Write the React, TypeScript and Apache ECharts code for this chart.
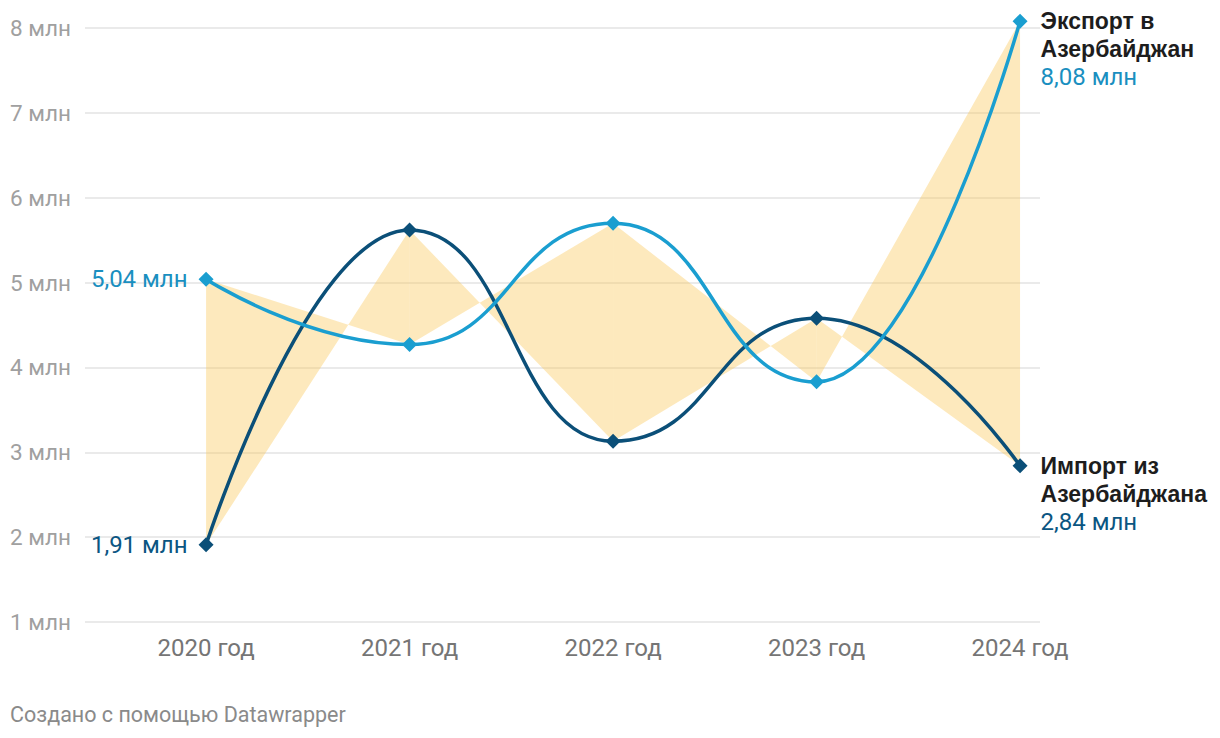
import React, { useEffect, useRef } from "react";
import * as echarts from "echarts";

const years = [2020, 2021, 2022, 2023, 2024];
const exportValues = [5.04, 4.27, 5.7, 3.83, 8.08];
const importValues = [1.91, 5.62, 3.13, 4.58, 2.84];
const yTicks = [1, 2, 3, 4, 5, 6, 7, 8];
const exportName = "Экспорт в\nАзербайджан";
const importName = "Импорт из\nАзербайджана";
const footer = "Создано с помощью Datawrapper";

const EXP = "#1a9ed0";
const EXP_TXT = "#1a8fc0";
const IMP = "#0b4f78";
const IMP_TXT = "#0b5682";

const fmt = (v: number) => v.toFixed(2).replace(".", ",") + " млн";

export default function App() {
  const ref = useRef<HTMLDivElement>(null);
  useEffect(() => {
    document.body.style.margin = "0";
    if (!ref.current) return;
    const chart = echarts.init(ref.current, undefined, { renderer: "svg" });
    const last = years.length - 1;

    const mkData = (vals: number[], txtColor: string, name: string) =>
      vals.map((v, i) => {
        const d: any = { value: [years[i], v] };
        if (i === 0) {
          d.label = {
            show: true,
            position: "left",
            distance: 11,
            formatter: fmt(v),
            color: txtColor,
            fontFamily: "Roboto",
            fontSize: 24,
          };
        } else if (i === last) {
          const [l1, l2] = name.split("\n");
          d.label = {
            show: true,
            position: "right",
            distance: 13,
            offset: [0, 28],
            formatter: `{n|${l1}}\n{n|${l2}}\n{v|${fmt(v)}}`,
            rich: {
              n: {
                fontFamily: "Liberation Sans",
                fontWeight: "bold",
                fontSize: 23,
                color: "#1d1d1d",
                lineHeight: 28,
              },
              v: {
                fontFamily: "Roboto",
                fontSize: 24,
                color: txtColor,
                lineHeight: 28,
              },
            },
          };
        }
        return d;
      });

    chart.setOption({
      animation: false,
      grid: { left: 85, right: 180, top: 28, bottom: 116 },
      xAxis: {
        type: "value",
        min: 2019.405,
        max: 2024.098,
        axisLine: { show: false },
        axisTick: { show: false },
        splitLine: { show: false },
        axisLabel: {
          customValues: years,
          formatter: (v: number) => `${v} год`,
          color: "#757575",
          fontFamily: "Roboto",
          fontSize: 24,
          margin: 14,
        },
      },
      yAxis: {
        type: "value",
        min: 1,
        max: 8,
        interval: 1,
        axisLine: { show: false },
        axisTick: { show: false },
        splitLine: { lineStyle: { color: "#e3e3e3", width: 1.5 } },
        axisLabel: {
          customValues: yTicks,
          formatter: (v: number) => `${v} млн`,
          align: "left",
          margin: 75,
          color: "#a0a0a0",
          fontFamily: "Roboto",
          fontSize: 22.5,
        },
      },
      graphic: [
        {
          type: "text",
          left: 10,
          top: 703,
          style: {
            text: footer,
            fill: "#8a8a8a",
            fontFamily: "Roboto",
            fontSize: 21.5,
          },
        },
      ],
      series: [
        {
          type: "custom",
          z: 1,
          silent: true,
          clip: false,
          data: years.slice(0, last).map((_, i) => [i]),
          renderItem: (params: any, api: any) => {
            const i = api.value(0);
            const a = api.coord([years[i], exportValues[i]]);
            const b = api.coord([years[i + 1], exportValues[i + 1]]);
            const c = api.coord([years[i + 1], importValues[i + 1]]);
            const d = api.coord([years[i], importValues[i]]);
            return {
              type: "polygon",
              shape: { points: [a, b, c, d] },
              style: { fill: "rgba(250, 200, 90, 0.4)", stroke: "none" },
            };
          },
        },
        {
          type: "line",
          name: "import",
          z: 3,
          clip: false,
          data: mkData(importValues, IMP_TXT, importName),
          smooth: 0.5,
          smoothMonotone: "x",
          symbol: "diamond",
          symbolSize: 15,
          showAllSymbol: true,
          lineStyle: { color: IMP, width: 3.5 },
          itemStyle: { color: IMP },
        },
        {
          type: "line",
          name: "export",
          z: 4,
          clip: false,
          data: mkData(exportValues, EXP_TXT, exportName),
          smooth: 0.5,
          smoothMonotone: "x",
          symbol: "diamond",
          symbolSize: 15,
          showAllSymbol: true,
          lineStyle: { color: EXP, width: 3.5 },
          itemStyle: { color: EXP },
        },
      ],
    });
    return () => chart.dispose();
  }, []);
  return <div ref={ref} style={{ width: 1220, height: 738 }} />;
}
